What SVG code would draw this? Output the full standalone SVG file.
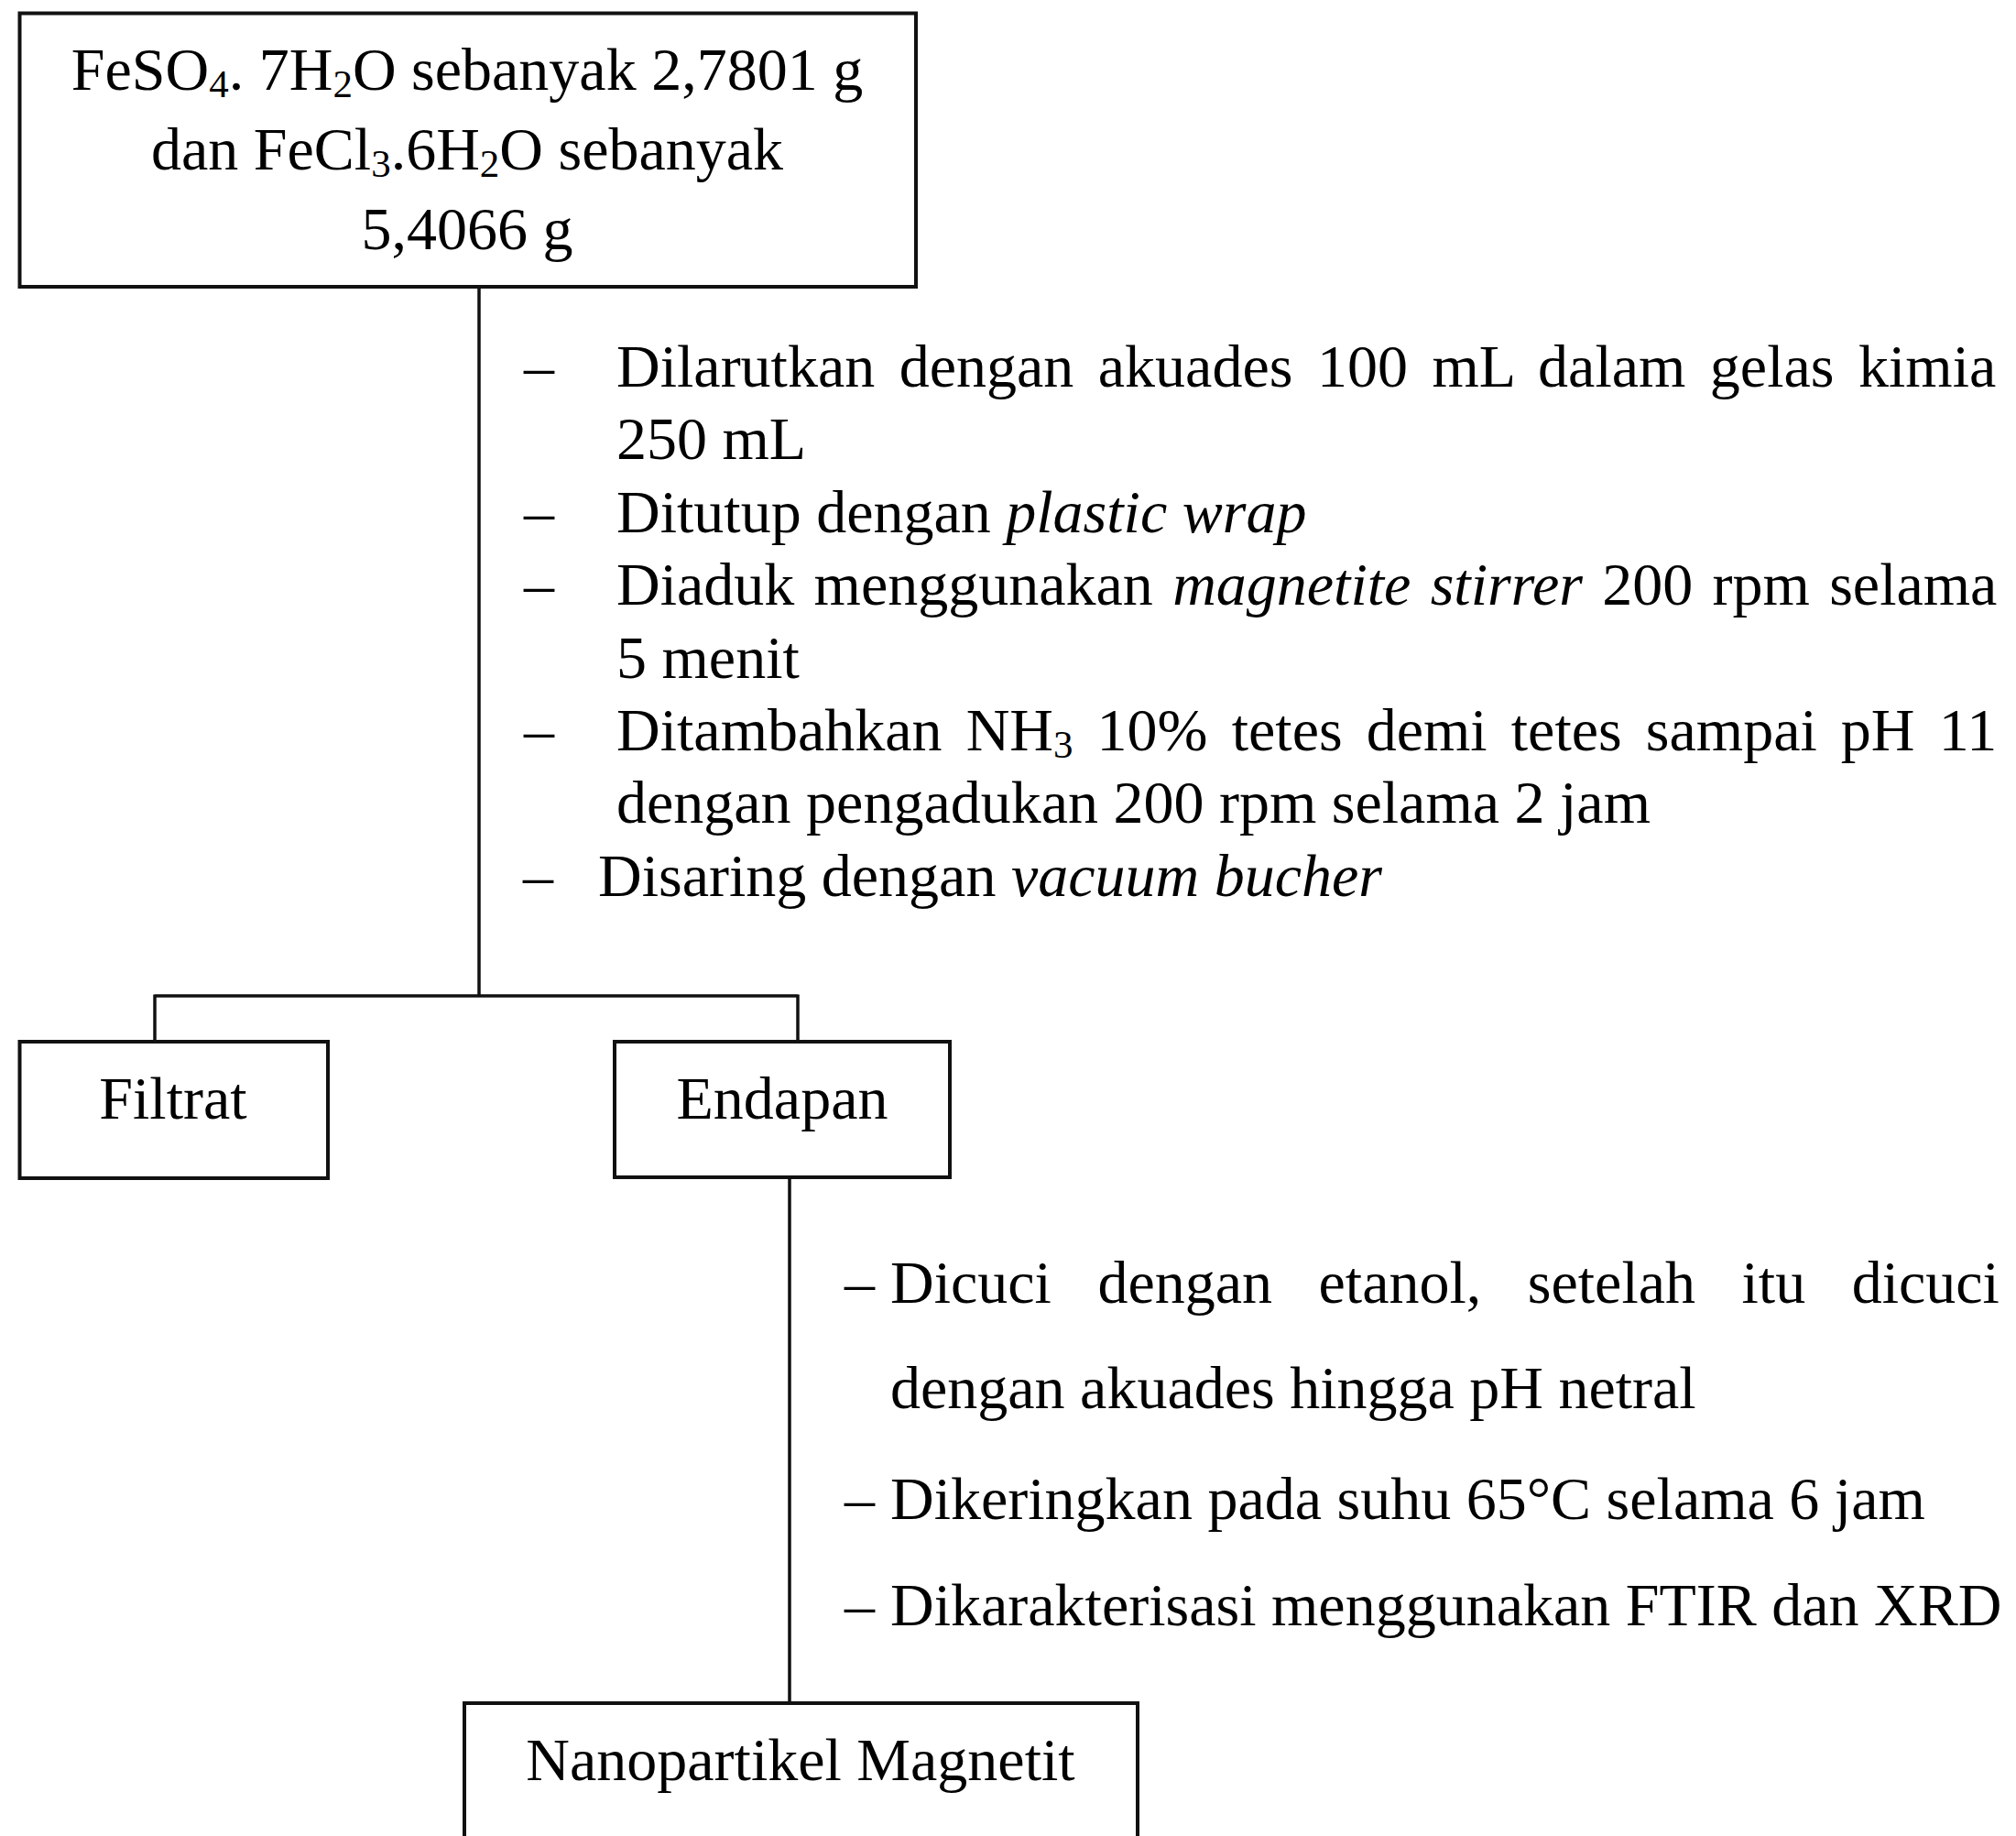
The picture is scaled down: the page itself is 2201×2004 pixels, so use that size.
<svg xmlns="http://www.w3.org/2000/svg" width="2201" height="2004" viewBox="0 0 2201 2004">
<style>
.box{fill:#fff;stroke:#111;stroke-width:4}
.ln{fill:none;stroke:#111;stroke-width:3.5}
text{font-family:"Liberation Serif","Times New Roman",serif;font-size:66px;fill:#000}
.c{text-anchor:middle}
.i{font-style:italic}
.sub{font-size:43px}
</style>
<rect width="2201" height="2004" fill="#fff"/>
<g id="connectors">
<path class="ln" d="M523 313V1087M169 1087H871M169 1085.5V1137M871 1085.5V1137M862 1286V1859"/>
</g>
<g id="node-start">
<rect class="box" x="21.5" y="14.5" width="978.5" height="298.5"/>
<text class="c" x="510" y="98">FeSO<tspan class="sub" dy="8">4</tspan><tspan dy="-8">. 7H</tspan><tspan class="sub" dy="8">2</tspan><tspan dy="-8">O sebanyak 2,7801 g</tspan></text>
<text class="c" x="510" y="185">dan FeCl<tspan class="sub" dy="8">3</tspan><tspan dy="-8">.6H</tspan><tspan class="sub" dy="8">2</tspan><tspan dy="-8">O sebanyak</tspan></text>
<text class="c" x="510" y="272">5,4066 g</text>
</g>
<g id="steps-1">
<text x="572" y="422">–</text>
<text x="673" y="422" word-spacing="10">Dilarutkan dengan akuades 100 mL dalam gelas kimia</text>
<text x="673" y="501">250 mL</text>
<text x="572" y="581">–</text>
<text x="673" y="581">Ditutup dengan <tspan class="i">plastic wrap</tspan></text>
<text x="572" y="660">–</text>
<text x="673" y="660" word-spacing="4.8">Diaduk menggunakan <tspan class="i">magnetite stirrer</tspan> 200 rpm selama</text>
<text x="673" y="740">5 menit</text>
<text x="572" y="819">–</text>
<text x="673" y="819" word-spacing="9.6">Ditambahkan NH<tspan class="sub" dy="8">3</tspan><tspan dy="-8"> 10% tetes demi tetes sampai pH 11</tspan></text>
<text x="673" y="898">dengan pengadukan 200 rpm selama 2 jam</text>
<text x="571" y="978">–</text>
<text x="653" y="978">Disaring dengan <tspan class="i">vacuum bucher</tspan></text>
</g>
<g id="node-filtrat">
<rect class="box" x="21.5" y="1137" width="336.5" height="149"/>
<text class="c" x="189" y="1221">Filtrat</text>
</g>
<g id="node-endapan">
<rect class="box" x="671" y="1137" width="366" height="148"/>
<text class="c" x="854" y="1221">Endapan</text>
</g>
<g id="steps-2">
<text x="922" y="1422">–</text>
<text x="972" y="1422" word-spacing="34">Dicuci dengan etanol, setelah itu dicuci</text>
<text x="972" y="1537">dengan akuades hingga pH netral</text>
<text x="922" y="1658">–</text>
<text x="972" y="1658">Dikeringkan pada suhu 65°C selama 6 jam</text>
<text x="922" y="1774">–</text>
<text x="972" y="1774">Dikarakterisasi menggunakan FTIR dan XRD</text>
</g>
<g id="node-nanopartikel">
<rect class="box" x="507" y="1859" width="735" height="160"/>
<text class="c" x="874" y="1943">Nanopartikel Magnetit</text>
</g>
</svg>
